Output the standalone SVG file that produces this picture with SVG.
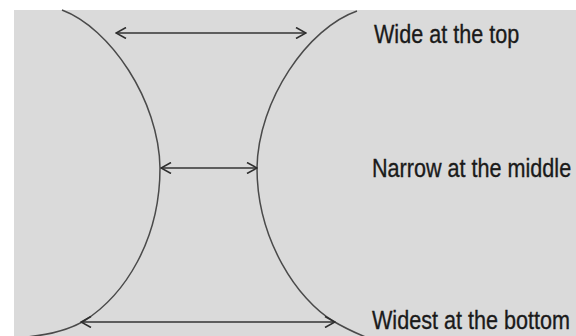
<svg xmlns="http://www.w3.org/2000/svg" width="576" height="336" viewBox="0 0 576 336">
  <defs>
    <marker id="head" viewBox="0 0 12 12" refX="11" refY="6" markerWidth="12" markerHeight="12" markerUnits="userSpaceOnUse" orient="auto-start-reverse">
      <path d="M1,0.5 L11,6 L1,11.5" fill="none" stroke="#2e2e2e" stroke-width="1.6" stroke-linejoin="miter"/>
    </marker>
  </defs>
  <style>
    .curve { fill: none; stroke: #4a4a4a; stroke-width: 1.5; }
    .arrow { fill: none; stroke: #333; stroke-width: 1.5; marker-start: url(#head); marker-end: url(#head); }
    .label { font-family: "Liberation Sans", Arial, sans-serif; font-size: 21.6px; fill: #1a1a1a; stroke: #1a1a1a; stroke-width: 0.3; }
  </style>
  <rect x="0" y="0" width="576" height="336" fill="#ffffff"/>
  <rect x="14" y="10" width="562" height="326" fill="#dadada"/>
  <g id="curves">
    <path id="left-curve" class="curve" d="M62,10 C110,28 159,100 160,168 C160,240 125,295 84,321 C62,334 35,337 12,338"/>
    <path id="right-curve" class="curve" d="M357,11 C308,28 258,100 257,168 C257,240 298,300 333,321 C348,330 358,334 368,338"/>
  </g>
  <g id="connectors">
    <line class="arrow" x1="116" y1="33" x2="306" y2="33"/>
    <line class="arrow" x1="161" y1="168" x2="257" y2="168"/>
    <line class="arrow" x1="81" y1="322" x2="335" y2="322"/>
  </g>
  <g id="label-top" transform="translate(374,43) scale(1,1.2)"><text class="label" x="0" y="0">Wide at the top</text></g>
  <g id="label-middle" transform="translate(372,177) scale(1,1.2)"><text class="label" x="0" y="0">Narrow at the middle</text></g>
  <g id="label-bottom" transform="translate(372,329) scale(1,1.2)"><text class="label" x="0" y="0">Widest at the bottom</text></g>
</svg>
